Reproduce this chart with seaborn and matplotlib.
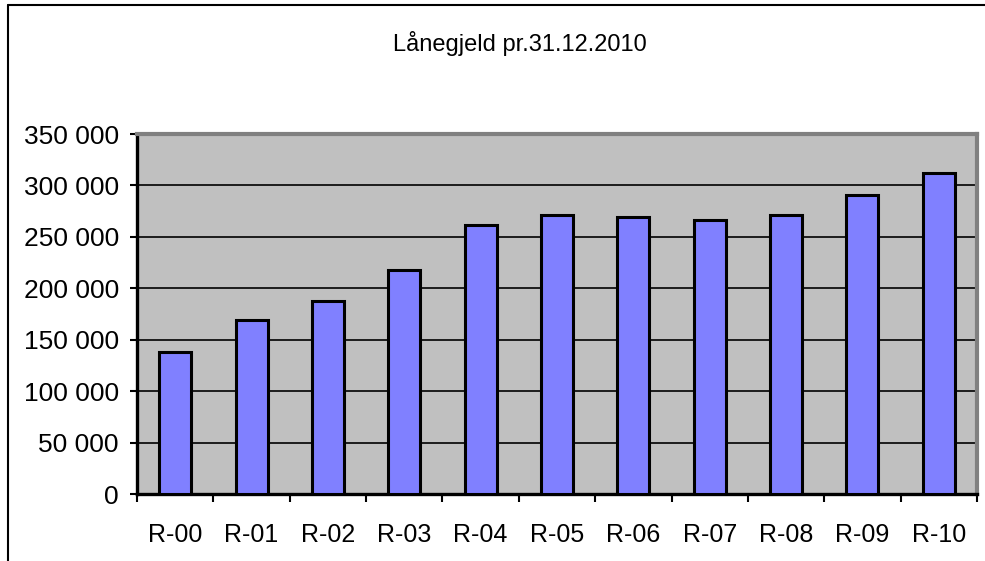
import seaborn as sns
import pandas as pd
import matplotlib.pyplot as plt
from matplotlib.lines import Line2D
from matplotlib.ticker import FuncFormatter, MultipleLocator

# Data
years = ["R-00", "R-01", "R-02", "R-03", "R-04", "R-05",
         "R-06", "R-07", "R-08", "R-09", "R-10"]
debt = [138000, 169500, 187500, 218000, 261500, 271000,
        269000, 266500, 271500, 290500, 312500]
title = "Lånegjeld pr.31.12.2010"

df = pd.DataFrame({"year": years, "debt": debt})

sns.set_theme(style="white")
plt.rcParams['font.family'] = ['Liberation Sans', 'DejaVu Sans']

W, H = 985, 561
fig = plt.figure(figsize=(W / 100, H / 100), dpi=100)
ax = fig.add_axes([137 / W, 1 - 494 / H, (977 - 137) / W, (494 - 134) / H])
ax.set_facecolor("#c0c0c0")

sns.barplot(data=df, x="year", y="debt", color="#8080ff", saturation=1,
            width=0.42, edgecolor="black", linewidth=2.2, ax=ax, zorder=3)

ax.set_ylim(0, 350000)
ax.set_xlim(-0.5, len(years) - 0.5)
ax.yaxis.set_major_locator(MultipleLocator(50000))
ax.yaxis.set_major_formatter(FuncFormatter(lambda v, p: f"{int(v):,}".replace(",", " ")))
ax.grid(axis="y", color="black", linewidth=1.2, zorder=1)
ax.set_axisbelow(True)
ax.set_xlabel("")
ax.set_ylabel("")

# x ticks sit between categories
ax.set_xticks([i - 0.5 for i in range(len(years) + 1)], minor=False)
ax.set_xticklabels([])
ax.set_xticks(range(len(years)), minor=True)
ax.set_xticklabels(years, minor=True)
ax.tick_params(axis="x", which="major", direction="out", length=6, width=1.5, color="black", bottom=True)
ax.tick_params(axis="x", which="minor", length=0, pad=21, labelsize=18, labelcolor="black")
ax.tick_params(axis="y", direction="out", length=5, width=1.5, color="black", left=True,
               labelsize=19, labelcolor="black", pad=8)

for side in ["left", "bottom"]:
    ax.spines[side].set_color("black")
    ax.spines[side].set_linewidth(2.4)
for side in ["top", "right"]:
    ax.spines[side].set_color("#808080")
    ax.spines[side].set_linewidth(3)

fig.text(520 / W, 1 - 44 / H, title, ha="center", va="center", fontsize=17, color="black")

# page frame lines
fig.add_artist(Line2D([8 / W, 1], [1 - 5 / H, 1 - 5 / H], color="black", linewidth=1.5))
fig.add_artist(Line2D([8 / W, 8 / W], [0, 1 - 5 / H], color="black", linewidth=1.5))

fig.savefig("out.png", dpi=100)
